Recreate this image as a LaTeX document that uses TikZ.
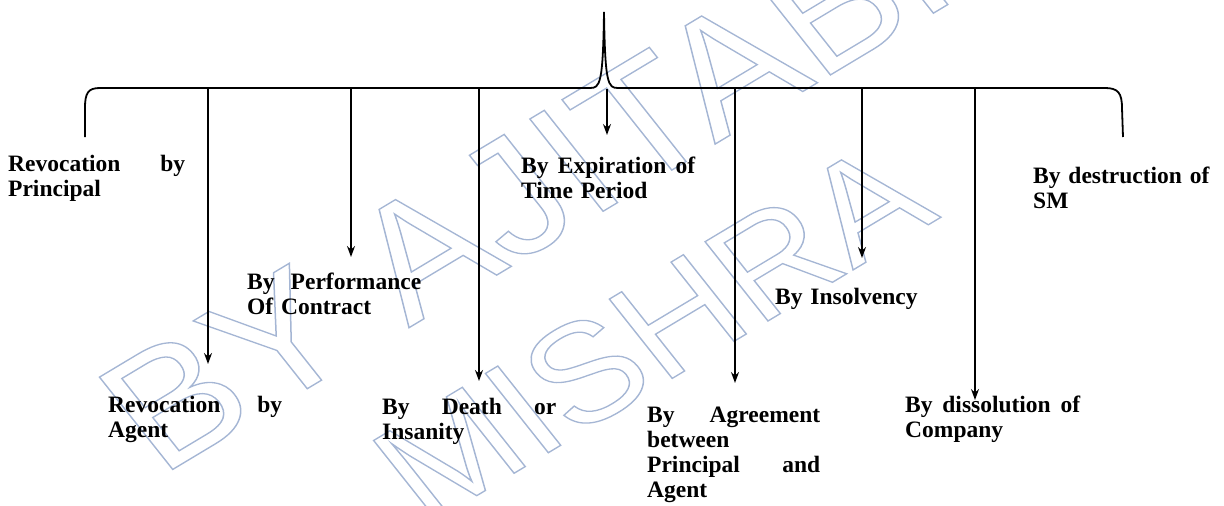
\documentclass[tikz,border=0pt]{standalone}
\usepackage{fontspec}
\setmainfont{Liberation Serif}
\newfontfamily\wmfont{Liberation Sans}
\usetikzlibrary{arrows.meta}
\definecolor{wmcol}{RGB}{165,182,212}
\newcommand{\jl}[2][174pt]{\makebox[#1][l]{#2}}
\newcommand{\outl}[1]{\special{pdf:literal direct 1 Tr 1.3 w}#1\special{pdf:literal direct 0 Tr}}
\tikzset{
  lbl/.style={font=\bfseries\fontsize{23.5}{25}\selectfont, inner sep=0pt, anchor=base west, text width=178pt, align=left},
  arr/.style={line width=1.4pt, -{Stealth[length=11pt,width=8pt]}},
  bracepath/.style={line width=1.8pt},
  wm/.style={text=wmcol, inner sep=0pt, cm={0.947,0.568,-0.653,0.823,(0,0)}}
}
\begin{document}
\begin{tikzpicture}[x=1pt,y=-1pt]
\useasboundingbox (0,0) rectangle (1224,506);
% watermark
\node[wm, font=\wmfont\fontsize{163}{163}\selectfont] (w1) at (560,170) {\outl{BY AJITABH}};
\node[wm, font=\wmfont\fontsize{140}{140}\selectfont] (w2) at (652,332) {\outl{MISHRA}};
% brace
\draw[bracepath] (85,137) -- (85,108) .. controls (85,93) and (88,88) .. (100,88) -- (590,88) .. controls (600,88) and (603,84) .. (604,12) .. controls (605,84) and (608,88) .. (618,88) -- (1105,88) .. controls (1118,88) and (1122,93) .. (1122,108) -- (1123,137);
% start and end coordinates
\coordinate (s1) at (208,88);  \coordinate (e1) at (208,364);
\coordinate (s2) at (351,88);  \coordinate (e2) at (351,257);
\coordinate (s3) at (479,88);  \coordinate (e3) at (479,381);
\coordinate (s4) at (607,89);  \coordinate (e4) at (607,135);
\coordinate (s5) at (735,88);  \coordinate (e5) at (735,383);
\coordinate (s6) at (862,88);  \coordinate (e6) at (862,258);
\coordinate (s7) at (975,88);  \coordinate (e7) at (975,400);
\foreach \i in {1,...,7} {\draw[arr] (s\i) -- (e\i);}
% labels
\node[lbl] (rp) at (8,171) {\jl[177pt]{Revocation\hfill by}\\Principal};
\node[lbl] (ra) at (108,412) {\jl{Revocation\hfill by}\\Agent};
\node[lbl] (pc) at (247,289) {\jl{By\hfill Performance}\\Of Contract};
\node[lbl] (di) at (382,414) {\jl{By\hfill Death\hfill or}\\Insanity};
\node[lbl] (ep) at (521,173) {\jl{By\hfill Expiration\hfill of}\\Time Period};
\node[lbl] (ag) at (647,422) {\jl[173pt]{By\hfill Agreement}\\between\\\jl[173pt]{Principal\hfill and}\\Agent};
\node[lbl] (in) at (775,304) {By Insolvency};
\node[lbl] (dc) at (905,412) {\jl[175pt]{By\hfill dissolution\hfill of}\\Company};
\node[lbl] (ds) at (1033,183) {By destruction of\\SM};
\end{tikzpicture}
\end{document}
